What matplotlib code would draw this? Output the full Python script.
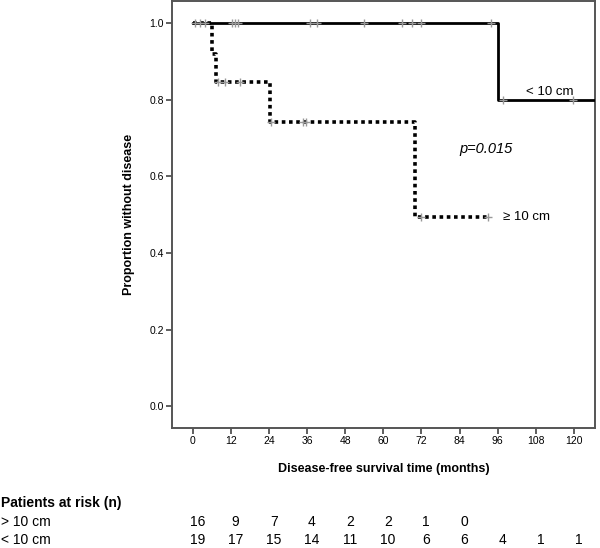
import numpy as np
import matplotlib.pyplot as plt

plt.rcParams['font.family'] = ['Liberation Sans', 'DejaVu Sans']

# Kaplan-Meier steps (months, proportion)
lt10_t = [0, 96, 130]
lt10_s = [1.0, 0.8, 0.8]
lt10_cens = [0.7, 2.3, 3.9, 12.4, 13.4, 14.3, 37, 39, 54, 66, 69, 72, 94, 97.5, 119.6]

ge10_t = [0, 6, 7.3, 24.2, 70, 93]
ge10_s = [1.0, 0.92, 0.846, 0.742, 0.494, 0.494]
ge10_cens = [8, 10.2, 14.9, 24.8, 34.7, 35.8, 72, 93]

risk_times = [0, 12, 24, 36, 48, 60, 72, 84, 96, 108, 120]
risk_gt10 = [16, 9, 7, 4, 2, 2, 1, 0]
risk_lt10 = [19, 17, 15, 14, 11, 10, 6, 6, 4, 1, 1]


def km_at(t_steps, s_steps, t):
    idx = np.searchsorted(t_steps, t, side='right') - 1
    return np.array(s_steps)[idx]


fig = plt.figure(figsize=(6, 5.48), dpi=100)
ax = fig.add_axes([0.2867, 0.219, 0.705, 0.779])

ax.step(lt10_t, lt10_s, where='post', color='black', lw=2.0, zorder=3)
ax.step(ge10_t, ge10_s, where='post', color='black', lw=2.6,
        linestyle=(0, (1, 1)), zorder=3)
ax.plot(lt10_cens, km_at(lt10_t, lt10_s, lt10_cens), '+', color='#999999',
        ms=6, mew=1.0, zorder=4)
ax.plot(ge10_cens, km_at(ge10_t, ge10_s, ge10_cens), '+', color='#999999',
        ms=6, mew=1.0, zorder=4)

ax.text(105, 0.805, '< 10 cm', fontsize=9.5, ha='left', va='bottom')
ax.text(97.5, 0.494, '\u2265 10 cm', fontsize=9.5, ha='left', va='center')
ax.text(84, 0.67, 'p=0.015', fontsize=10.5, style='italic', ha='left', va='center')

ax.set_xlim(-6.5, 126.6)
ax.set_ylim(-0.057, 1.057)
ax.set_xticks(risk_times)
ax.set_yticks([0.0, 0.2, 0.4, 0.6, 0.8, 1.0])
ax.set_yticklabels(['0.0', '0.2', '0.4', '0.6', '0.8', '1.0'])
ax.tick_params(labelsize=7.5, length=4, width=1.2, color='#444444', pad=2)
for sp in ax.spines.values():
    sp.set_color('#555555')
    sp.set_linewidth(1.4)

ax.set_xlabel('Disease-free survival time (months)', fontsize=9,
              fontweight='bold', labelpad=12)
ax.set_ylabel('Proportion without disease', fontsize=9,
              fontweight='bold', labelpad=10)

# patients at risk table
fig.text(0.002, 1 - 503 / 548, 'Patients at risk (n)', fontsize=10,
         fontweight='bold', va='center')
fig.text(0.002, 1 - 522 / 548, '> 10 cm', fontsize=10, va='center')
fig.text(0.002, 1 - 540 / 548, '< 10 cm', fontsize=10, va='center')
for t, n in zip(risk_times, risk_gt10):
    xf = fig.transFigure.inverted().transform(ax.transData.transform((t + 1.5, 0)))[0]
    fig.text(xf, 1 - 522 / 548, str(n), fontsize=10, ha='center', va='center')
for t, n in zip(risk_times, risk_lt10):
    xf = fig.transFigure.inverted().transform(ax.transData.transform((t + 1.5, 0)))[0]
    fig.text(xf, 1 - 540 / 548, str(n), fontsize=10, ha='center', va='center')

fig.savefig('out.png', dpi=100)
